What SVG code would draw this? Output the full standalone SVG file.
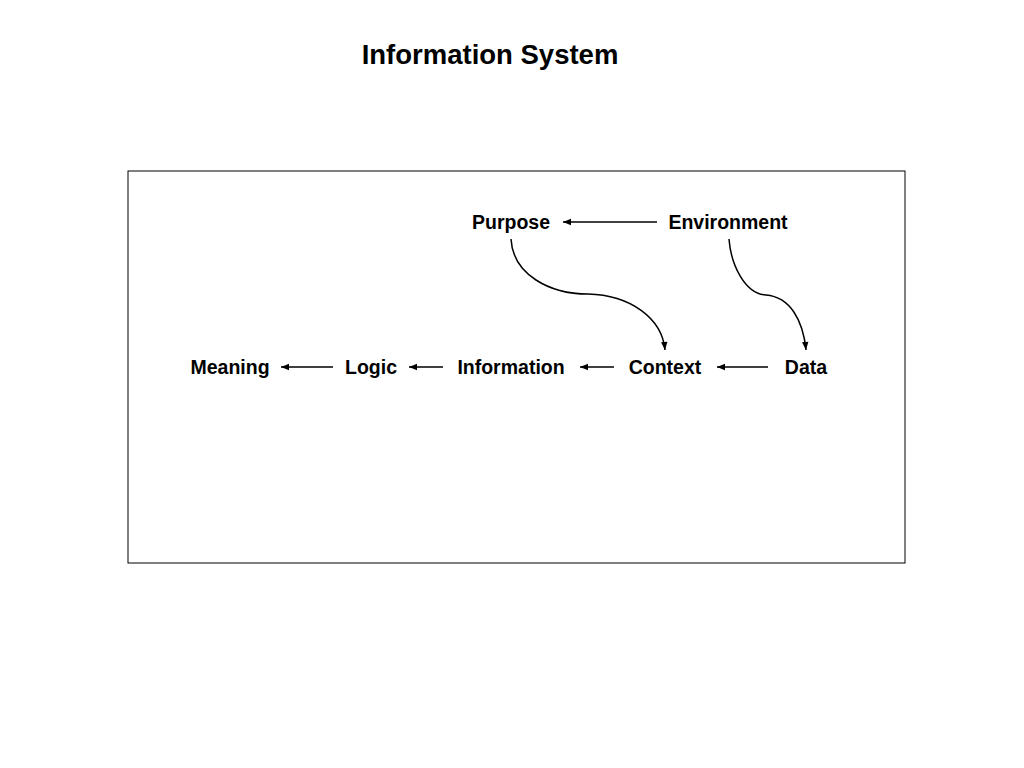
<svg xmlns="http://www.w3.org/2000/svg" width="1024" height="768" viewBox="0 0 1024 768">
<style>
text{font-family:"Liberation Sans",Arial,sans-serif;font-weight:bold;fill:#000;text-anchor:middle}
.lbl{font-size:19.5px}
.ttl{font-size:27.5px}
.c{fill:none;stroke:#000;stroke-width:1.5}
</style>
<defs>
<marker id="ah" viewBox="0 0 10 10" refX="10" refY="5" markerWidth="9" markerHeight="8" markerUnits="userSpaceOnUse" orient="auto">
<path d="M0,1 L10,5 L0,9 Z" fill="#000"/>
</marker>
</defs>
<rect width="1024" height="768" fill="#fff"/>
<text class="ttl" x="490" y="64">Information System</text>
<rect x="128" y="171" width="777" height="392" fill="none" stroke="#000" stroke-width="1"/>
<g id="connectors">
<line class="c" x1="657" y1="222" x2="563" y2="222" marker-end="url(#ah)"/>
<line class="c" x1="768" y1="367" x2="717" y2="367" marker-end="url(#ah)"/>
<line class="c" x1="614" y1="367" x2="580" y2="367" marker-end="url(#ah)"/>
<line class="c" x1="443" y1="367" x2="409" y2="367" marker-end="url(#ah)"/>
<line class="c" x1="333" y1="367" x2="281" y2="367" marker-end="url(#ah)"/>
<path class="c" d="M511,239 C513,275 550,294 588,294 C630,295 662,318 665,350" marker-end="url(#ah)"/>
<path class="c" d="M729,239 C731,265 745,294 766,295 C790,297 803,320 806,350" marker-end="url(#ah)"/>
</g>
<g id="purpose"><text class="lbl" x="511" y="229">Purpose</text></g>
<g id="environment"><text class="lbl" x="728" y="229">Environment</text></g>
<g id="meaning"><text class="lbl" x="230" y="374">Meaning</text></g>
<g id="logic"><text class="lbl" x="371" y="374">Logic</text></g>
<g id="information"><text class="lbl" x="511" y="374">Information</text></g>
<g id="context"><text class="lbl" x="665" y="374">Context</text></g>
<g id="data"><text class="lbl" x="806" y="374">Data</text></g>
</svg>
